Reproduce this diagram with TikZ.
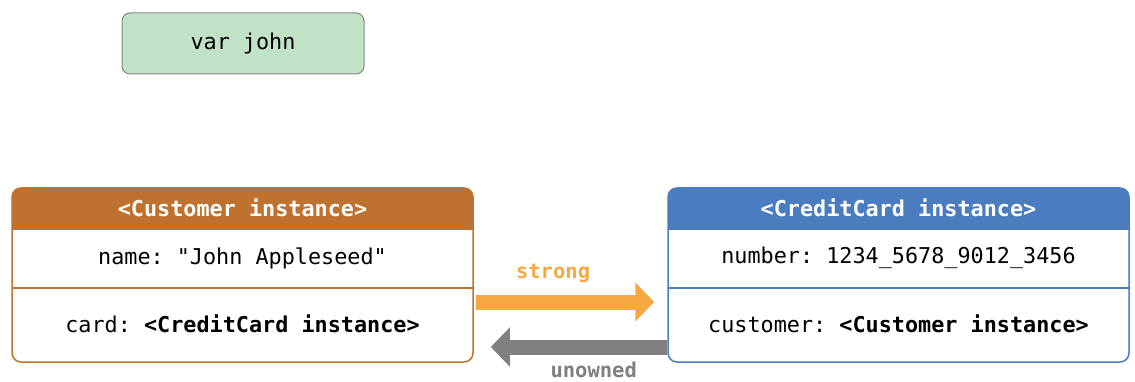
\documentclass[tikz,border=0pt]{standalone}
\usepackage{fontspec}
\setmonofont{DejaVu Sans Mono}
\usetikzlibrary{arrows.meta, positioning}
\definecolor{custcol}{HTML}{BF712F}
\definecolor{cardcol}{HTML}{4B7CBF}
\definecolor{strongcol}{HTML}{F5A940}
\definecolor{unownedcol}{HTML}{808080}
\definecolor{varfill}{HTML}{C2E2C8}
\definecolor{varline}{HTML}{858585}

\begin{document}
\begin{tikzpicture}[x=1pt,y=1pt,
    every node/.style={font=\ttfamily\fontsize{21.8}{26}\selectfont},
    varbox/.style={draw=varline,fill=varfill,rounded corners=8pt,line width=1pt,
        minimum width=242pt,minimum height=61pt,inner sep=0pt},
    instbox/.style={draw=#1,line width=1.5pt,rounded corners=9pt,
        minimum width=461pt,minimum height=174pt,inner sep=0pt,
        path picture={
          \fill[#1,sharp corners] (path picture bounding box.north west) rectangle
                    ([yshift=-42pt]path picture bounding box.north east);
          \draw[#1,sharp corners,line width=1.3pt] ([yshift=-100pt]path picture bounding box.north west) --
                    ([yshift=-100pt]path picture bounding box.north east);}},
    head/.style={text=white,font=\ttfamily\bfseries\fontsize{21.8}{26}\selectfont},
    ref/.style={line width=15pt,-{Triangle[width=38pt,length=19pt]}},
    lbl/.style={font=\ttfamily\bfseries\fontsize{20.5}{24}\selectfont}]

\useasboundingbox (0,0) rectangle (1135,-382);

\node[varbox] (john) at (243,-43.5) {var john};

\node[instbox=custcol] (cust) at (242.5,-275) {};
\node[instbox=cardcol] (card) at (898.5,-275) {};

\node[head] (custhead) at ([yshift=-21pt]cust.north) {<Customer instance>};
\node (custname) at ([yshift=-71pt]cust.north) {name: "John Appleseed"};
\node (custcard) at ([yshift=-137pt]cust.north) {card: \textbf{<CreditCard instance>}};

\node[head] (cardhead) at ([yshift=-21pt]card.north) {<CreditCard instance>};
\node (cardnum) at ([yshift=-71pt]card.north) {number: 1234\_5678\_9012\_3456};
\node (cardcust) at ([yshift=-137pt]card.north) {customer: \textbf{<Customer instance>}};

\draw[ref,strongcol,shorten <=2pt,shorten >=13pt] ([yshift=-27pt]cust.east) -- ([yshift=-27pt]card.west)
    node[lbl,text=strongcol,pos=0.41,above=8pt] (stronglbl) {strong};
\draw[ref,unownedcol,shorten >=17pt] ([yshift=-72pt]card.west) -- ([yshift=-72pt]cust.east)
    node[lbl,text=unownedcol,pos=0.38,below=4.5pt] (unownedlbl) {unowned};

\end{tikzpicture}
\end{document}
